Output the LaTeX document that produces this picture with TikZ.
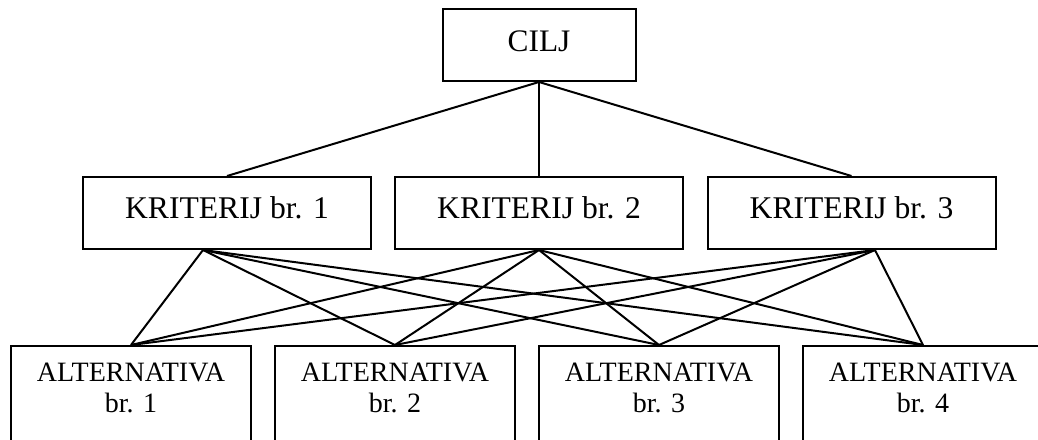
\documentclass[tikz,border=0pt]{standalone}
\usepackage{fontspec}
\setmainfont{Liberation Serif}
\begin{document}
\begin{tikzpicture}[x=0.75pt,y=-0.75pt,
  box/.style={draw, line width=1.5pt, rectangle, inner sep=0pt},
  topbox/.style={box, minimum width=144.75pt, minimum height=54pt,
    font=\fontsize{23.5}{28}\selectfont, text height=18pt, text depth=9pt},
  critbox/.style={box, minimum width=216pt, minimum height=54pt,
    font=\fontsize{23.7}{28}\selectfont, text height=16.5pt, text depth=9pt},
  altbox/.style={box, minimum width=180pt, minimum height=93pt},
  alttext/.style={anchor=north, inner sep=0pt, align=center,
    font=\fontsize{21}{23.25}\selectfont},
  link/.style={line width=1.5pt}]
\useasboundingbox (0,0) rectangle (1038,439);
\clip (0,0) rectangle (1038,439);

\node[topbox] (cilj) at (539,45) {CILJ};

\node[critbox] (k1) at (227,213) {KRITERIJ br. 1};
\node[critbox] (k2) at (539,213) {KRITERIJ br. 2};
\node[critbox] (k3) at (851.5,213) {KRITERIJ br. 3};

\node[altbox] (alt1) at (131,408) {};
\node[altbox] (alt2) at (395,408) {};
\node[altbox] (alt3) at (659,408) {};
\node[altbox] (alt4) at (923,408) {};

\node[alttext] (alt1l) at (131,363) {ALTERNATIVA\\br. 1};
\node[alttext] (alt2l) at (395,363) {ALTERNATIVA\\br. 2};
\node[alttext] (alt3l) at (659,363) {ALTERNATIVA\\br. 3};
\node[alttext] (alt4l) at (923,363) {ALTERNATIVA\\br. 4};

\draw[link] (cilj.south) -- (k1.north);
\draw[link] (cilj.south) -- (k2.north);
\draw[link] (cilj.south) -- (k3.north);

\coordinate (k1b) at ([xshift=-18pt]k1.south);
\coordinate (k2b) at (k2.south);
\coordinate (k3b) at ([xshift=17.6pt]k3.south);

\foreach \k in {k1b,k2b,k3b}
  \foreach \a in {alt1,alt2,alt3,alt4}
    \draw[link] (\k) -- (\a.north);
\end{tikzpicture}
\end{document}
